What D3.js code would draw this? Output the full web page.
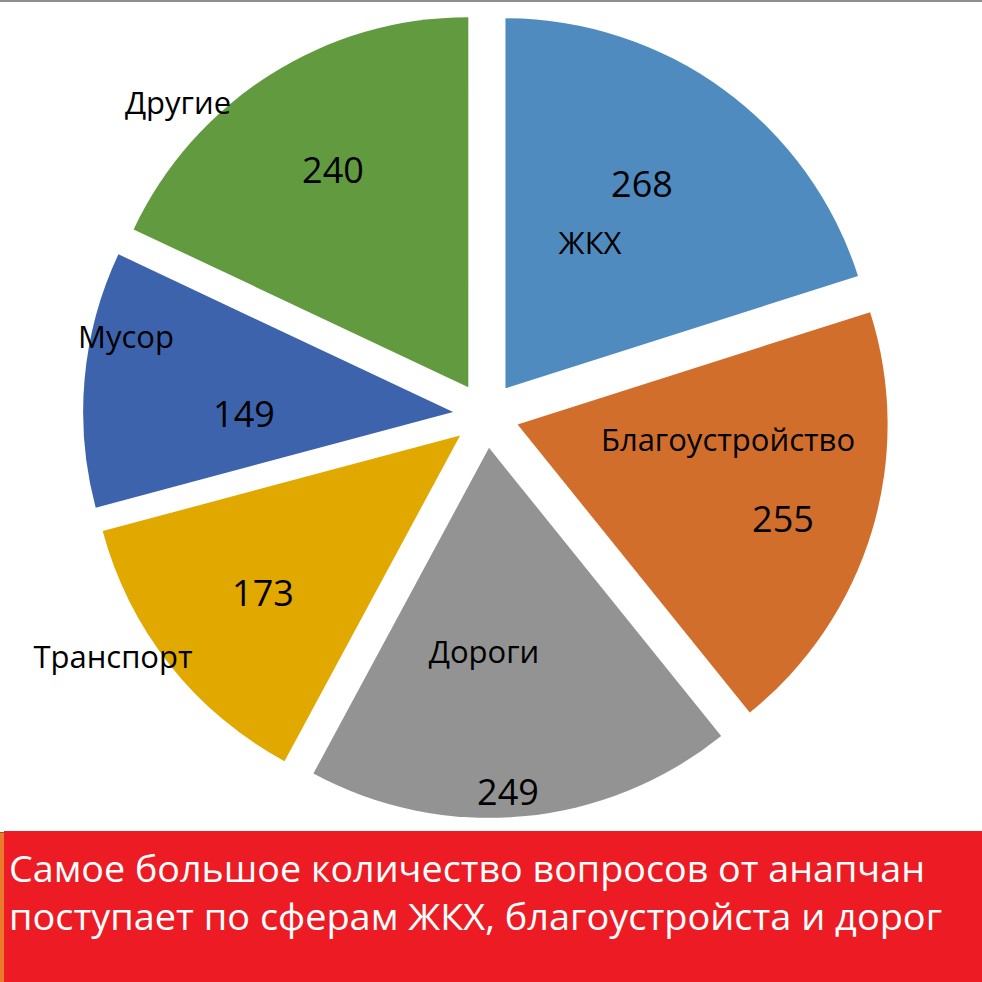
<!DOCTYPE html>
<html><head><meta charset="utf-8">
<script src="https://cdn.jsdelivr.net/npm/d3@7/dist/d3.min.js"></script>
<style>html,body{margin:0;padding:0;background:#fff;}svg{display:block;}</style>
</head><body>
<svg id="c" width="982" height="982"></svg>
<script>
const categories = ["ЖКХ", "Благоустройство", "Дороги", "Транспорт", "Мусор", "Другие"];
const values = [268, 255, 249, 173, 149, 240];
const colors = ["#4F8BBE", "#D26E2C", "#939393", "#E1A800", "#3D63AD", "#629A40"];
const captionLines = ["Самое большое количество вопросов от анапчан", "поступает по сферам ЖКХ, благоустройста и дорог"];

// label layout (pixel anchors for the text, centre-x and baseline)
const nameLayout = [[590, 254], [728, 451], [484, 663], [113, 668], [126, 348], [178, 114]];
const valueLayout = [[642, 197], [783, 532], [508, 805], [263, 606], [244, 427], [333, 183]];
const captionWidths = [916, 933];

const W = 982, H = 982;
const cx = 486, cy = 415, R = 370, explode = 33;
const svg = d3.select("#c");

// top rule
svg.append("rect").attr("x", 0).attr("y", 0).attr("width", W).attr("height", 2).attr("fill", "#8f8f8f");

const data = categories.map((c, i) => ({name: c, value: values[i], color: colors[i]}));
const pie = d3.pie().sort(null).value(d => d.value).startAngle(0).endAngle(2 * Math.PI);
const arc = d3.arc().innerRadius(0).outerRadius(R);
const arcs = pie(data);

const g = svg.append("g").attr("transform", `translate(${cx},${cy})`);
g.selectAll("path").data(arcs).join("path")
  .attr("d", arc)
  .attr("fill", d => d.data.color)
  .attr("transform", d => {
    const m = (d.startAngle + d.endAngle) / 2;
    return `translate(${Math.sin(m) * explode},${-Math.cos(m) * explode})`;
  });

const font = "'Open Sans', 'Noto Sans', sans-serif";
svg.append("g").selectAll("text").data(arcs).join("text")
  .attr("x", (d, i) => nameLayout[i][0]).attr("y", (d, i) => nameLayout[i][1])
  .attr("text-anchor", "middle").attr("font-family", font).attr("font-size", 31)
  .attr("fill", "#000").text(d => d.data.name);
svg.append("g").selectAll("text").data(arcs).join("text")
  .attr("x", (d, i) => valueLayout[i][0]).attr("y", (d, i) => valueLayout[i][1])
  .attr("text-anchor", "middle").attr("font-family", font).attr("font-size", 36)
  .attr("fill", "#000").text(d => d.data.value);

// caption box
svg.append("rect").attr("x", 0).attr("y", 832).attr("width", 4).attr("height", H - 832).attr("fill", "#E87A2A");
svg.append("rect").attr("x", 0).attr("y", 832).attr("width", 4).attr("height", 1).attr("fill", "#8a5a2a");
svg.append("rect").attr("x", 4).attr("y", 831).attr("width", W - 4).attr("height", H - 831).attr("fill", "#ED1C24");
svg.append("g").selectAll("text").data(captionLines).join("text")
  .attr("x", 9).attr("y", (d, i) => 882 + i * 48)
  .attr("font-family", font).attr("font-size", 37).attr("fill", "#fff")
  .attr("textLength", (d, i) => captionWidths[i]).attr("lengthAdjust", "spacingAndGlyphs")
  .text(d => d);
</script>
</body></html>
